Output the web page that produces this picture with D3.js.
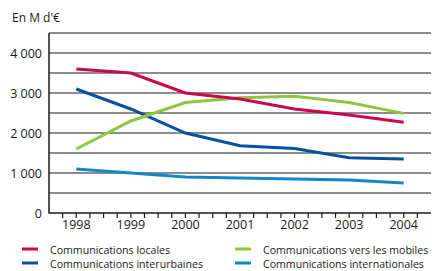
<!DOCTYPE html>
<html>
<head>
<meta charset="utf-8">
<script src="https://cdn.jsdelivr.net/npm/d3@7"></script>
<style>
  body { margin: 0; background: #fff; }
  text { font-family: "Open Sans", sans-serif; fill: #1a1a1a; }
</style>
</head>
<body>
<svg id="chart" width="432" height="271"></svg>
<script>
var years = [1998, 1999, 2000, 2001, 2002, 2003, 2004];
var locales = [3600, 3500, 3000, 2850, 2600, 2450, 2270];
var mobiles = [1600, 2300, 2760, 2880, 2920, 2760, 2490];
var interurbaines = [3100, 2600, 2000, 1680, 1610, 1380, 1350];
var internationales = [1100, 1000, 900, 875, 850, 825, 750];
var yTicks = [0, 1000, 2000, 3000, 4000];

var series = [
  { name: 'Communications locales', values: locales, color: '#c8084f' },
  { name: 'Communications interurbaines', values: interurbaines, color: '#0a4fa0' },
  { name: 'Communications vers les mobiles', values: mobiles, color: '#8dc63f' },
  { name: 'Communications internationales', values: internationales, color: '#1585cc' }
];

var svg = d3.select('#chart');
var plotLeft = 49, plotRight = 431, plotTop = 33, plotBottom = 213;

var x = d3.scaleLinear().domain([1997.5, 2004.5]).range([plotLeft, plotRight]);
var y = d3.scaleLinear().domain([0, 4500]).range([plotBottom, plotTop]);

// gridlines every 500
svg.append('g').selectAll('line')
  .data(d3.range(500, 4501, 500))
  .enter().append('line')
  .attr('x1', plotLeft).attr('x2', plotRight)
  .attr('y1', function(d) { return y(d); })
  .attr('y2', function(d) { return y(d); })
  .attr('stroke', '#8c8c8c').attr('stroke-width', 2);

// y labels
svg.append('g').selectAll('text')
  .data(yTicks)
  .enter().append('text')
  .attr('x', 42)
  .attr('y', function(d) { return y(d) + 4.5; })
  .attr('text-anchor', 'end')
  .style('font-size', '12.5px')
  .text(function(d) { return d3.format(',')(d).replace(',', ' '); });

svg.append('text').attr('x', 12).attr('y', 22)
  .style('font-size', '12px')
  .text("En M d'\u20AC");

// x axis ticks (quarters)
var ticks = d3.range(1997.75, 2004.5, 0.25);
svg.append('g').selectAll('line')
  .data(ticks)
  .enter().append('line')
  .attr('x1', function(d) { return x(d); })
  .attr('x2', function(d) { return x(d); })
  .attr('y1', plotBottom).attr('y2', plotBottom + 5)
  .attr('stroke', '#1a1a1a').attr('stroke-width', 1.2);

svg.append('g').selectAll('text')
  .data(years)
  .enter().append('text')
  .attr('x', function(d) { return x(d); })
  .attr('y', plotBottom + 16)
  .attr('text-anchor', 'middle')
  .style('font-size', '12.5px')
  .text(function(d) { return d; });

// axes lines
svg.append('line').attr('x1', plotLeft).attr('x2', plotLeft).attr('y1', plotTop).attr('y2', plotBottom + 0.5)
  .attr('stroke', '#1a1a1a').attr('stroke-width', 1.5);
svg.append('line').attr('x1', plotLeft).attr('x2', plotRight).attr('y1', plotBottom).attr('y2', plotBottom)
  .attr('stroke', '#1a1a1a').attr('stroke-width', 1.5);

var line = d3.line()
  .x(function(d, i) { return x(years[i]); })
  .y(function(d) { return y(d); });

// draw in order so locales ends on top
[series[3], series[1], series[2], series[0]].forEach(function(s) {
  svg.append('path')
    .attr('d', line(s.values))
    .attr('fill', 'none')
    .attr('stroke', s.color)
    .attr('stroke-width', 3);
});

// legend
var legendPos = [[22, 249], [22, 263], [235, 249], [235, 263]];
series.forEach(function(s, i) {
  var p = legendPos[i];
  svg.append('line')
    .attr('x1', p[0]).attr('x2', p[0] + 16)
    .attr('y1', p[1]).attr('y2', p[1])
    .attr('stroke', s.color).attr('stroke-width', 3);
  svg.append('text')
    .attr('x', p[0] + 28).attr('y', p[1] + 5)
    .style('font-size', '10.6px')
    .text(s.name);
});
</script>
</body>
</html>
